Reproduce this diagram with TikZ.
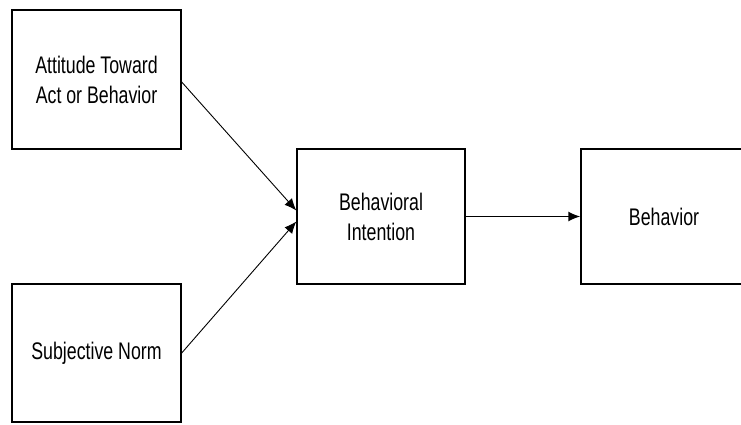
\documentclass[tikz,border=0pt]{standalone}
\usepackage{fontspec}
\usepackage{graphicx}
\setmainfont{Liberation Sans}
\usetikzlibrary{arrows.meta}
\newcommand{\sq}[1]{\scalebox{0.74}[1]{#1}}
\begin{document}
\begin{tikzpicture}[x = 1pt, y = -1pt]
      \tikzstyle{every node} = [inner sep = 0pt];
      \tikzstyle{box} = [draw, line width = 1.4pt, align = center,
        font = \fontsize{24}{30}\selectfont];
      \tikzstyle{link} = [line width = 0.9pt, -{Latex[length = 12pt, width = 10pt]}];
      \useasboundingbox[fill = white] (0,0) rectangle (741,424);
      \node(att) [box, minimum width = 169pt, minimum height = 139pt] at (96.5, 79.5)
        {\sq{Attitude Toward}\\\sq{Act or Behavior}};
      \node(sn) [box, minimum width = 169pt, minimum height = 138pt] at (96.5, 353)
        {\sq{Subjective Norm}};
      \node(bi) [box, minimum width = 168pt, minimum height = 135pt] at (381, 216.5)
        {\sq{Behavioral}\\\sq{Intention}};
      \node(beh) [box, minimum width = 166pt, minimum height = 135pt] at (664, 216.5)
        {\sq{Behavior}};
      \path[link]
      ([yshift = -2.5pt]att.east) edge ([yshift = 6pt]bi.west)
      (sn.east) edge ([yshift = -5pt]bi.west);
      \path[link, line width = 1.5pt]
      (bi.east) edge (beh.west);
    \end{tikzpicture}
\end{document}
